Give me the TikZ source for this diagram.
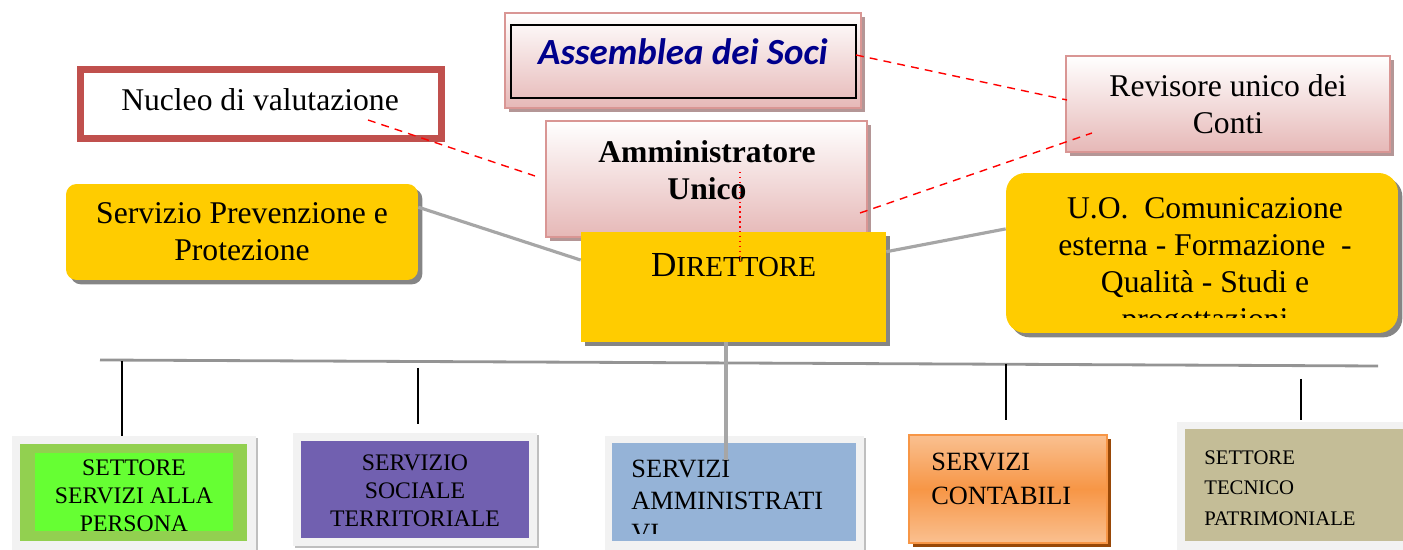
\documentclass[tikz,border=0pt]{standalone}
\usepackage{fontspec}
\setmainfont{Liberation Serif}
\newfontfamily\carlitofont{Carlito}
\usetikzlibrary{shadows}
\definecolor{capo}{RGB}{255,204,0}
\definecolor{rosa}{RGB}{230,184,183}
\definecolor{rosabordo}{RGB}{217,150,148}
\definecolor{rosaombra}{RGB}{180,150,150}
\definecolor{nucleo}{RGB}{192,80,77}
\definecolor{verde}{RGB}{146,208,80}
\definecolor{verdechiaro}{RGB}{102,255,51}
\definecolor{viola}{RGB}{113,96,176}
\definecolor{azzurro}{RGB}{149,179,215}
\definecolor{arancio}{RGB}{247,150,70}
\definecolor{aranciochiaro}{RGB}{250,192,144}
\definecolor{marrone}{RGB}{152,72,7}
\definecolor{sabbia}{RGB}{196,189,151}
\definecolor{cornice}{RGB}{242,242,242}
\definecolor{blusoci}{RGB}{0,0,140}

\begin{document}
\begin{tikzpicture}[x=0.02cm,y=-0.02cm,
	grande/.style={font=\fontsize{18}{21}\selectfont,align=center},
	rosabox/.style={draw=rosabordo,line width=1.2pt,top color=white,bottom color=rosa,inner sep=0pt,
		drop shadow={shadow xshift=2.5pt,shadow yshift=-2.5pt,fill=rosaombra,opacity=1}},
	giallobox/.style={fill=capo,inner sep=0pt,
		drop shadow={shadow xshift=2.5pt,shadow yshift=-2.5pt,fill=black!48,opacity=1}},
	cornicebox/.style={fill=cornice,inner sep=0pt,
		drop shadow={shadow xshift=1pt,shadow yshift=-1pt,fill=black!25,opacity=1}},
	tratteggio/.style={red,dash pattern=on 4.5pt off 3.5pt,line width=0.8pt},
	grigio/.style={draw=black!35,line width=1.8pt},
	nero/.style={black,line width=0.8pt}]
\useasboundingbox (0,0) rectangle (1403,550);

% organi in alto
\node[rosabox,minimum width=7.12cm,minimum height=1.9cm] (soci) at (683,60.5) {};
\node[draw=black,line width=1.2pt,minimum width=6.9cm,minimum height=1.46cm] (sociriq) at (683.5,61.5) {};
\node[font=\carlitofont\bfseries\itshape\fontsize{21}{25}\selectfont,text=blusoci] (socitesto) at (683,52) {Assemblea dei Soci};
\node[draw=nucleo,line width=4pt,fill=white,minimum width=7.22cm,minimum height=1.38cm] (nucleo) at (261,104) {};
\node[grande] (nucleotesto) at (260,100) {Nucleo di valutazione};
\node[rosabox,minimum width=6.42cm,minimum height=2.32cm] (amm) at (706.5,179) {};
\node[grande,font=\bfseries\fontsize{18}{21}\selectfont] (ammtesto) at (707,170) {Amministratore\\Unico};
\node[rosabox,grande,minimum width=6.48cm,minimum height=1.92cm] (revisore) at (1228,104) {Revisore unico dei\\Conti};

% staff e direttore
\node[giallobox,grande,rounded corners=6pt,minimum width=7.04cm,minimum height=1.92cm] (spp) at (242,232) {Servizio Prevenzione e\\Protezione};
\node[giallobox,minimum width=6.1cm,minimum height=2.2cm] (dir) at (733.5,287) {};
\node (dirtesto) at (733.5,265) {\fontsize{20}{24}\selectfont D\fontsize{16.5}{20}\selectfont IRETTORE};
\node[giallobox,rounded corners=11pt,minimum width=7.84cm,minimum height=3.2cm] (uo) at (1202,253) {};
\begin{scope}
	\clip (1006,173) rectangle (1398,318);
	\node[grande] (uotesto) at (1205,267) {U.O.~~Comunicazione\\esterna - Formazione~~-\\Qualità - Studi e\\progettazioni};
\end{scope}

% settori e servizi
\node[cornicebox,minimum width=4.88cm,minimum height=2.28cm] (persona) at (134,493) {};
\node[fill=verde,minimum width=4.54cm,minimum height=1.94cm] (personaverde) at (133.5,492.5) {};
\node[fill=verdechiaro,minimum width=3.96cm,minimum height=1.56cm] (personainterno) at (134,492) {};
\node[font=\fontsize{13.5}{16}\selectfont,align=center] (personatesto) at (134,496) {SETTORE\\SERVIZI ALLA\\PERSONA};

\node[cornicebox,minimum width=4.88cm,minimum height=2.26cm] (sociale) at (415,489.5) {};
\node[fill=viola,minimum width=4.56cm,minimum height=1.94cm] (socialeviola) at (415,489.5) {};
\node[font=\fontsize{13.5}{16}\selectfont,align=center] (socialetesto) at (415,491) {SERVIZIO\\SOCIALE\\TERRITORIALE};

\node[cornicebox,minimum width=5.18cm,minimum height=2.28cm] (ammin) at (734.5,493) {};
\node[fill=azzurro,minimum width=4.88cm,minimum height=1.96cm] (amminblu) at (734,492) {};
\begin{scope}
	\clip (612,443) rectangle (856,533);
	\node[font=\fontsize{15}{18}\selectfont,align=left,anchor=north west,inner sep=0pt] (ammintesto) at (631,460) {SERVIZI\\AMMINISTRATI\\VI};
\end{scope}

\node[draw=arancio,line width=1pt,top color=aranciochiaro,bottom color=aranciochiaro,middle color=arancio,
	drop shadow={shadow xshift=2pt,shadow yshift=-2pt,fill=marrone,opacity=1},
	minimum width=3.96cm,minimum height=2.16cm] (contabili) at (1008,489) {};
\node[font=\fontsize{15}{19}\selectfont,align=left,anchor=north west,inner sep=0pt] (contabilitesto) at (931,453) {SERVIZI\\CONTABILI};

\node[cornicebox,minimum width=4.52cm,minimum height=2.56cm] (tecnico) at (1290,486) {};
\node[fill=sabbia,minimum width=4.36cm,minimum height=2.24cm] (tecnicosabbia) at (1294,485) {};
\node[font=\fontsize{11.8}{17.4}\selectfont,align=left,anchor=north west,inner sep=0pt] (tecnicotesto) at (1204,450) {SETTORE\\TECNICO\\PATRIMONIALE};

% collegamenti
\coordinate (bussx) at (100,360);
\coordinate (busdx) at (1378,366);
\coordinate (perno) at (726,460);
\draw[grigio] (spp.8) -- (dir.170);
\draw[grigio] (dir.13) -- (uo.173);
\draw[grigio,draw=black!42,line width=1.6pt] (bussx) -- (busdx);
\draw[grigio] (perno |- dir.south) -- (perno);

\coordinate (v1) at (122,361);
\coordinate (v2a) at (418,368);
\coordinate (v2b) at (418,424);
\coordinate (v3a) at (1006,364);
\coordinate (v3b) at (1006,420);
\coordinate (v4a) at (1301,379);
\coordinate (v4b) at (1301,420);
\draw[nero] (v1) -- (v1 |- persona.north);
\draw[nero] (v2a) -- (v2b);
\draw[nero] (v3a) -- (v3b);
\draw[nero] (v4a) -- (v4b);

\coordinate (t1a) at (368,120);
\coordinate (t1b) at (535,176);
\coordinate (t2a) at (856,55);
\coordinate (t2b) at (1067,100);
\coordinate (t3a) at (860,213);
\coordinate (t3b) at (1092,133);
\coordinate (p1a) at (740,172);
\coordinate (p1b) at (740,262);
\draw[tratteggio] (t1a) -- (t1b);
\draw[tratteggio] (t2a) -- (t2b);
\draw[tratteggio] (t3a) -- (t3b);
\draw[red,dotted,line width=0.8pt] (p1a) -- (p1b);
\end{tikzpicture}
\end{document}
